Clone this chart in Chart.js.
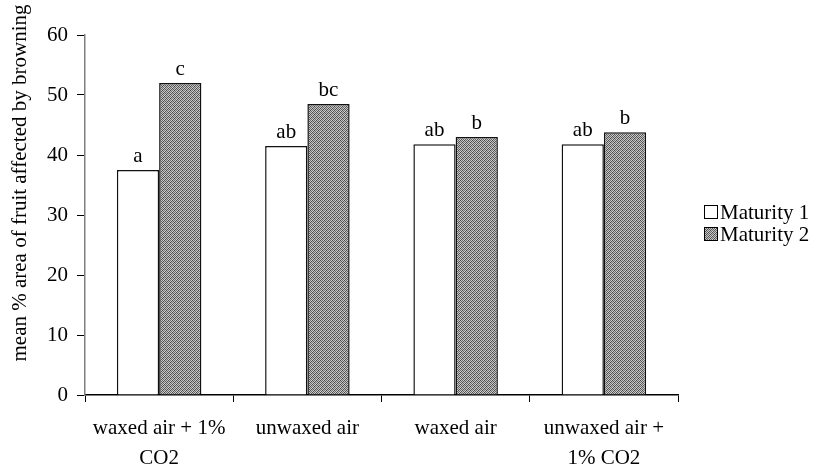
<!DOCTYPE html>
<html>
<head>
<meta charset="utf-8">
<script src="https://cdn.jsdelivr.net/npm/chart.js@4"></script>
<style>
  html, body { margin: 0; padding: 0; background: #fff; }
  #wrap { width: 825px; height: 468px; }
</style>
</head>
<body>
<div id="wrap"><canvas id="browningChart" width="825" height="468"></canvas></div>
<script>
// Treatments and browning means per maturity stage
const categories = [['waxed air + 1%', 'CO2'], ['unwaxed air'], ['waxed air'], ['unwaxed air +', '1% CO2']];
const maturity1 = [37.5, 41.5, 41.8, 41.8];
const maturity2 = [52, 48.5, 43, 43.8];
const letters1 = ['a', 'ab', 'ab', 'ab'];
const letters2 = ['c', 'bc', 'b', 'b'];
const seriesNames = ['Maturity 1', 'Maturity 2'];
const yTicks = [0, 10, 20, 30, 40, 50, 60];

const FONT = '"Liberation Serif", "Times New Roman", serif';

// Dotted grey fill for the second series
function makeDither() {
    const c = document.createElement('canvas');
    c.width = 4; c.height = 4;
    const g = c.getContext('2d');
    const dots = [
        '#4a4a4a', '#c4c4c4', '#6a6a6a', '#d0d0d0',
        '#bcbcbc', '#5c5c5c', '#c8c8c8', '#505050',
        '#707070', '#cccccc', '#484848', '#c0c0c0',
        '#d4d4d4', '#545454', '#bebebe', '#666666'
    ];
    dots.forEach((col, i) => {
        g.fillStyle = col;
        g.fillRect(i % 4, Math.floor(i / 4), 1, 1);
    });
    return g.createPattern(c, 'repeat');
}
const ctx = document.getElementById('browningChart').getContext('2d');
const dither = makeDither();

// Significance letters over each bar, plus legend and rotated axis title
const extras = {
    id: 'extras',
    afterDatasetsDraw(chart) {
        const c = chart.ctx;
        c.save();
        c.fillStyle = '#000';
        c.font = '21px ' + FONT;
        c.textAlign = 'center';
        c.textBaseline = 'alphabetic';
        [letters1, letters2].forEach((letters, di) => {
            chart.getDatasetMeta(di).data.forEach((bar, i) => {
                c.fillText(letters[i], bar.x, bar.y - 8);
            });
        });

        // legend
        c.textAlign = 'left';
        c.textBaseline = 'middle';
        const fills = ['#fff', dither];
        seriesNames.forEach((name, i) => {
            const y = 212 + i * 22;
            c.fillStyle = fills[i];
            c.fillRect(704, y - 7, 14, 14);
            c.strokeStyle = '#000';
            c.lineWidth = 1;
            c.strokeRect(704.5, y - 6.5, 13, 13);
            c.fillStyle = '#000';
            c.fillText(name, 720, y + 1);
        });

        // y axis title
        c.translate(20, 183);
        c.rotate(-Math.PI / 2);
        c.textAlign = 'center';
        c.fillText('mean % area of fruit affected by browning', 0, 0);
        c.restore();
    }
};

new Chart(ctx, {
    type: 'bar',
    data: {
        labels: categories,
        datasets: [
            {
                label: seriesNames[0],
                data: maturity1,
                backgroundColor: '#fff',
                borderColor: '#111',
                borderWidth: 1.5
            },
            {
                label: seriesNames[1],
                data: maturity2,
                backgroundColor: dither,
                borderColor: '#111',
                borderWidth: 1.5
            }
        ]
    },
    options: {
        responsive: false,
        animation: false,
        layout: { padding: { left: 40, right: 147, top: 35, bottom: 0 } },
        categoryPercentage: 0.57,
        barPercentage: 1.0,
        plugins: {
            legend: { display: false },
            tooltip: { enabled: false }
        },
        scales: {
            x: {
                offset: true,
                afterFit(scale) { scale.height = 73; },
                border: { color: '#000', width: 1.5 },
                grid: {
                    offset: true,
                    drawOnChartArea: false,
                    drawTicks: true,
                    tickLength: 7,
                    color: '#000'
                },
                ticks: {
                    color: '#000',
                    font: { family: FONT, size: 21, lineHeight: 1.4 },
                    maxRotation: 0,
                    autoSkip: false,
                    padding: 12
                }
            },
            y: {
                min: 0,
                max: 60,
                afterFit(scale) { scale.width = 45; },
                afterBuildTicks(scale) { scale.ticks = yTicks.map(v => ({ value: v })); },
                border: { color: '#808080', width: 1.5 },
                grid: {
                    drawOnChartArea: false,
                    drawTicks: true,
                    tickLength: 8,
                    color: '#000'
                },
                ticks: {
                    color: '#000',
                    font: { family: FONT, size: 21 },
                    padding: 9
                }
            }
        }
    },
    plugins: [extras]
});
</script>
</body>
</html>
